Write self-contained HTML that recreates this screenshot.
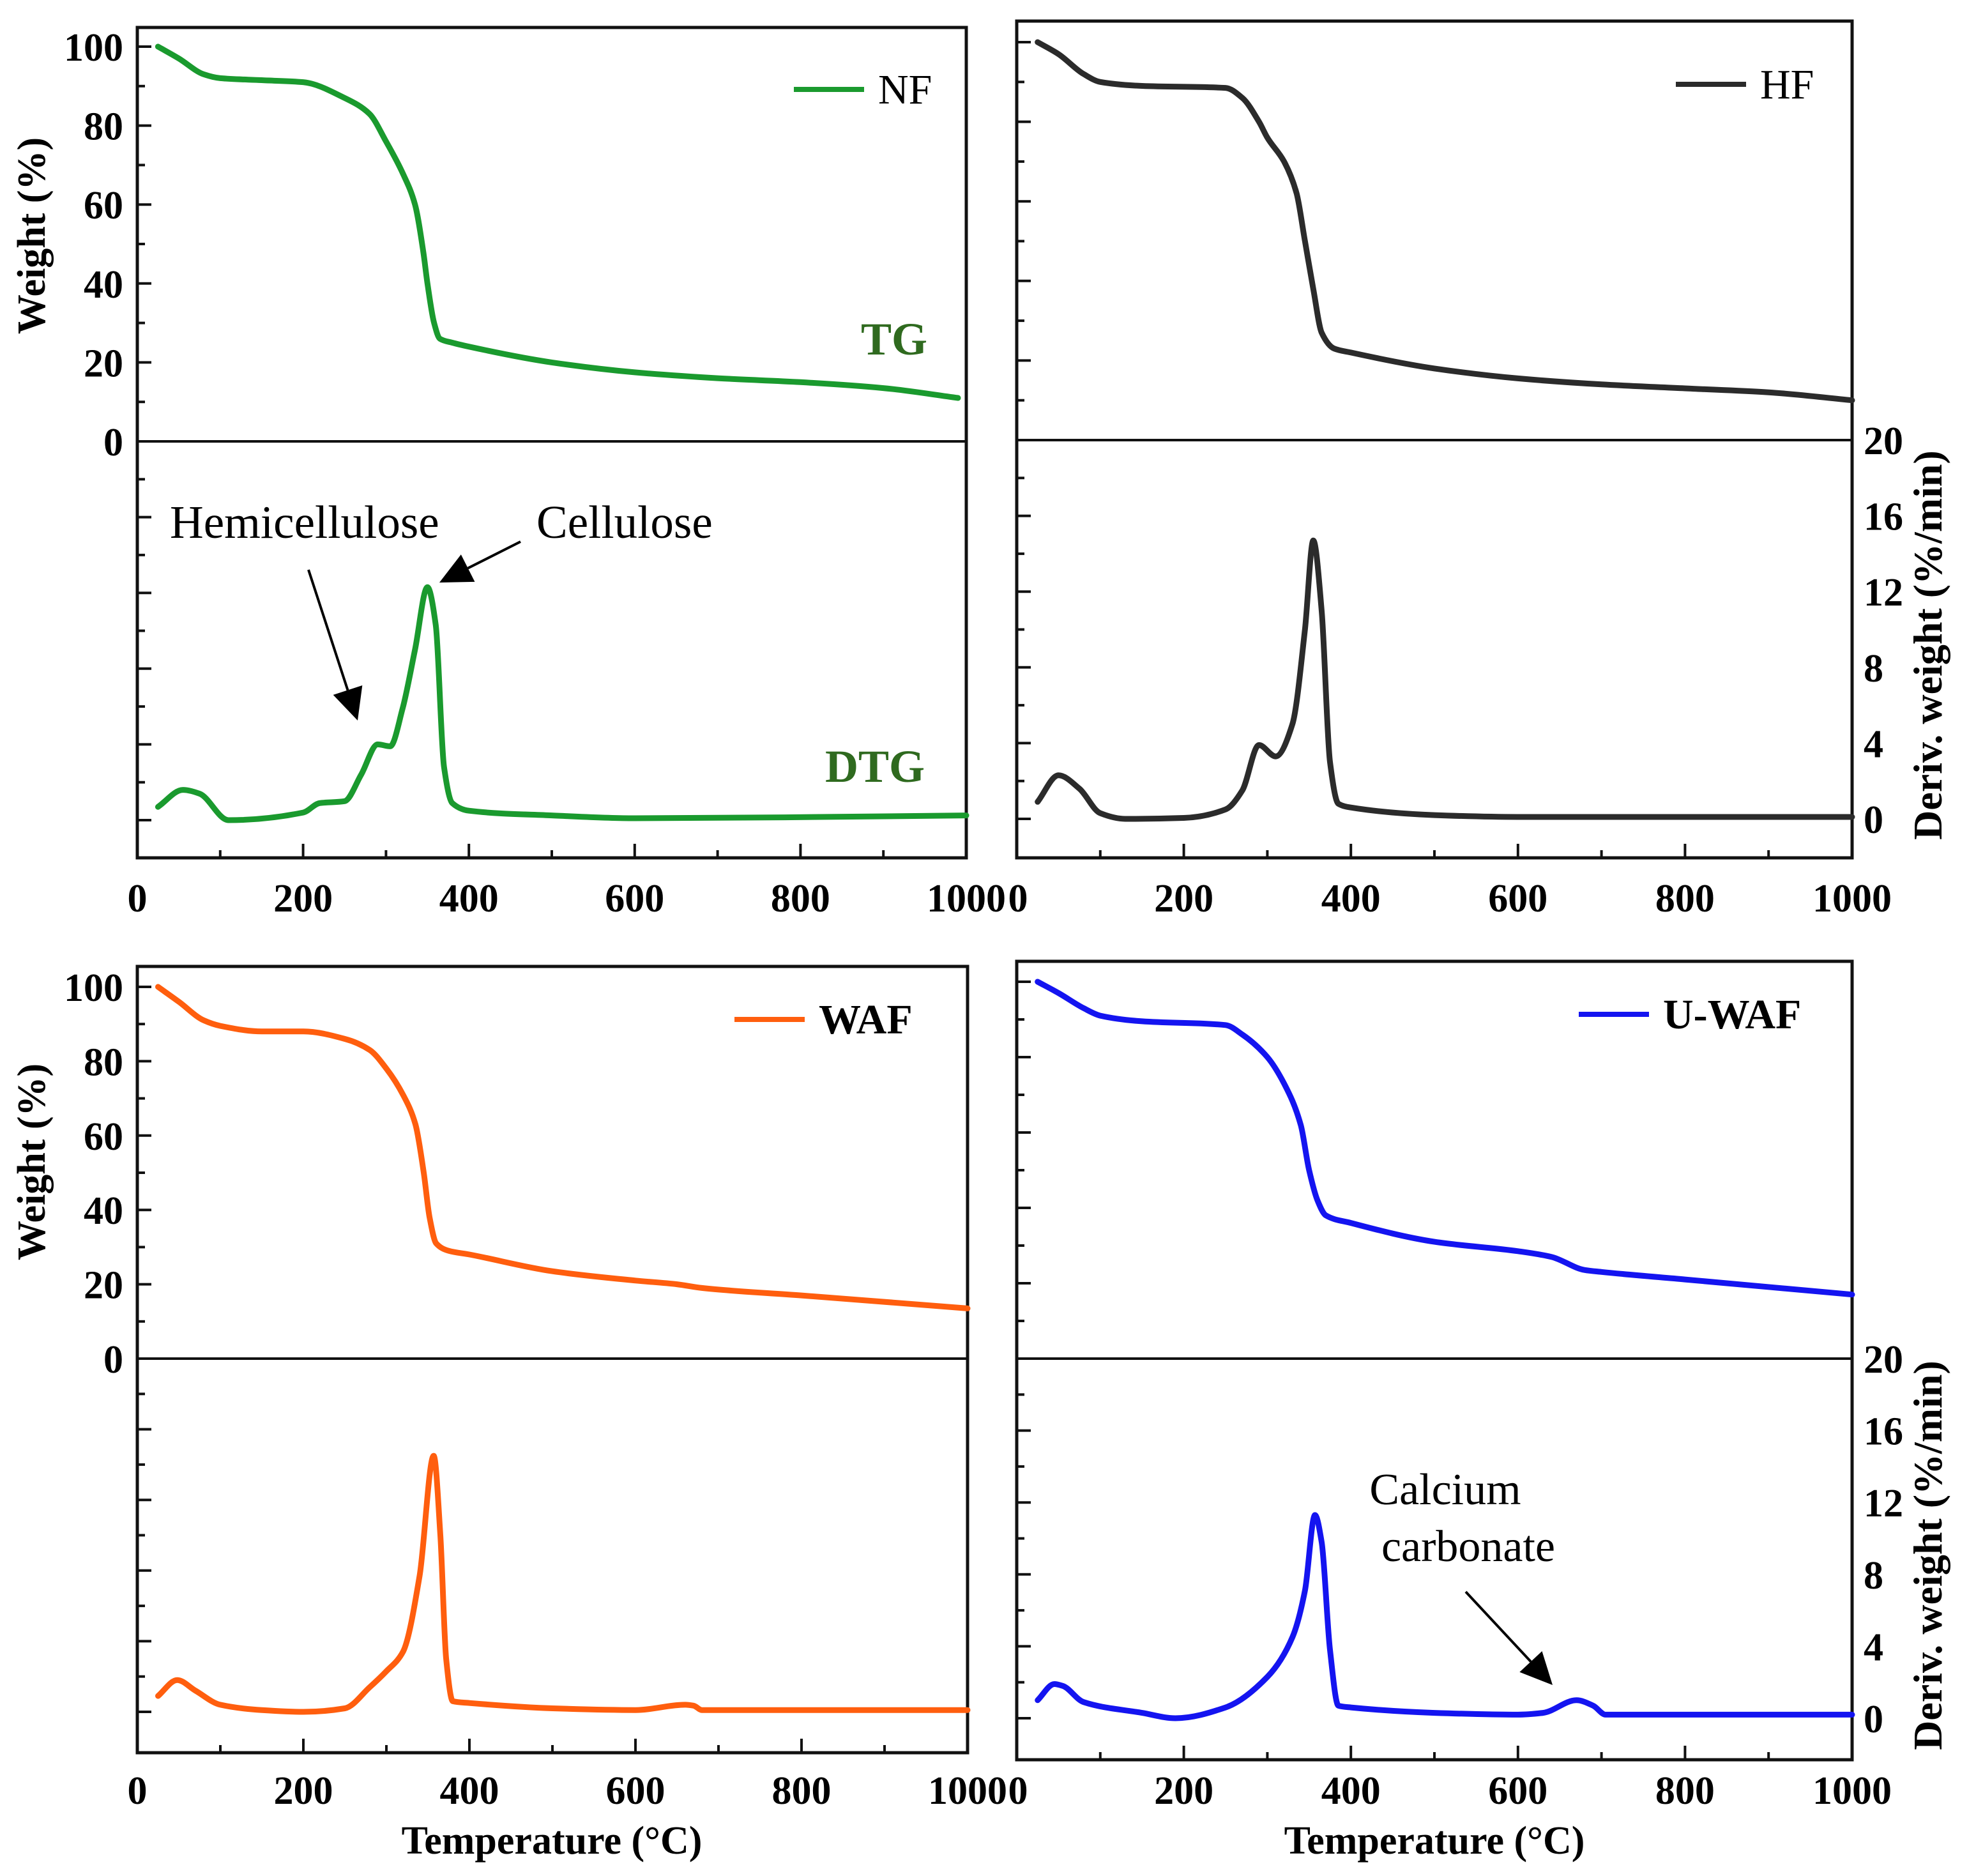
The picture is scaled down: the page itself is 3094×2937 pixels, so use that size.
<!DOCTYPE html>
<html><head><meta charset="utf-8">
<style>
html,body{margin:0;padding:0;background:#fff;}
svg{display:block;font-family:"Liberation Serif",serif;}
</style></head>
<body>
<svg id="chart" width="3094" height="2937" viewBox="0 0 3094 2937" xmlns="http://www.w3.org/2000/svg">
<g id="layer"></g>
<text transform="translate(70,369) rotate(-90)" text-anchor="middle" font-weight="bold" font-size="62">Weight (%)</text>
<text transform="translate(70,1819) rotate(-90)" text-anchor="middle" font-weight="bold" font-size="62">Weight (%)</text>
<text transform="translate(3040,1010) rotate(-90)" text-anchor="middle" font-weight="bold" font-size="64">Deriv. weight (%/min)</text>
<text transform="translate(3040,2435) rotate(-90)" text-anchor="middle" font-weight="bold" font-size="64">Deriv. weight (%/min)</text>
<text x="864" y="2902" text-anchor="middle" font-weight="bold" font-size="62">Temperature (°C)</text>
<text x="2246" y="2902" text-anchor="middle" font-weight="bold" font-size="62">Temperature (°C)</text>
<text x="1452" y="555" text-anchor="end" font-weight="bold" font-size="72" fill="#2f6a1f">TG</text>
<text x="1448" y="1224" text-anchor="end" font-weight="bold" font-size="72" fill="#2f6a1f">DTG</text>
<text x="266" y="842" font-size="73">Hemicellulose</text>
<text x="840" y="842" font-size="73">Cellulose</text>
<text x="2263" y="2355" text-anchor="middle" font-size="70">Calcium</text>
<text x="2299" y="2444" text-anchor="middle" font-size="70">carbonate</text>
</svg>
<script>
// ---- data (temperature °C, weight %, deriv %/min) ----
const nfTgT = [25,50,80,100,150,200,250,280,300,320,335,345,350,358,365,380,400,500,600,700,800,900,990];
const nfTgW = [100,97,93,92,91.5,91,87,83,76,68,60,48,40,30,26,25,24,20,17.5,16,15,13.5,11];
const nfDtgT = [25,55,75,110,200,220,250,270,290,305,320,335,350,360,370,380,400,500,600,1000];
const nfDtgD = [0.7,1.6,1.4,0,0.4,0.9,1.0,2.4,4.0,3.9,5.9,9,12.3,10.3,2.8,0.9,0.5,0.25,0.1,0.25];
const hfTgT = [25,50,80,100,150,250,270,290,300,320,335,345,355,365,380,400,500,600,700,800,900,1000];
const hfTgW = [100,97,92,90,89,88.5,86,80,76,70,62,50,38,27,23,22,18,15.5,14,13,12,10];
const hfDtgT = [25,50,75,100,130,200,250,270,290,310,330,345,355,365,375,385,400,500,600,1000];
const hfDtgD = [0.9,2.3,1.6,0.3,0,0.05,0.5,1.5,3.9,3.3,5,10,14.7,11,3,0.8,0.6,0.2,0.1,0.1];
const wafTgT = [25,50,80,100,150,200,250,280,300,320,335,345,352,360,375,400,500,600,650,680,800,1000];
const wafTgW = [100,96,91,89.5,88,88,86,83,78,71,63,50,38,31,29,28,23.5,21,20,19,17,13.5];
const wafDtgT = [25,48,70,100,150,200,250,280,300,320,340,357,365,372,380,400,500,600,660,670,680,1000];
const wafDtgD = [0.9,1.8,1.2,0.4,0.1,0,0.2,1.4,2.3,3.4,7.7,14.5,10,3,0.6,0.5,0.2,0.1,0.4,0.35,0.1,0.1];
const uwafTgT = [25,50,80,100,150,250,270,300,320,340,350,360,370,400,500,600,640,680,700,800,1000];
const uwafTgW = [100,97,93,91,89.5,88.5,86,80,73,62,50,42,38,36,31,28.5,27,23.5,23,21,17];
const uwafDtgT = [25,45,55,80,150,190,250,300,330,345,357,365,375,385,400,500,600,630,670,690,705,1000];
const uwafDtgD = [1.0,1.9,1.8,0.9,0.3,0,0.6,2.3,4.5,7.1,11.3,9.8,3.8,0.7,0.6,0.3,0.2,0.3,1.0,0.7,0.2,0.2];
const xTicks = [0,200,400,600,800,1000];
const tgTicks = [0,20,40,60,80,100];
const dtgTicks = [0,4,8,12,16,20];

const NS="http://www.w3.org/2000/svg";
const layer=document.getElementById('layer');
function mk(tag,attrs,parent){const e=document.createElementNS(NS,tag);for(const k in attrs)e.setAttribute(k,attrs[k]);(parent||layer).appendChild(e);return e;}

const panels=[
 {id:'nf',x0:215,x1:1513,top:43,mid:691,bot:1343,tg100:73,dtg0:1284,color:'#1a9a2e',tgT:nfTgT,tgW:nfTgW,dT:nfDtgT,dD:nfDtgD,leftLabels:true,rightLabels:false,xlab:1405,legend:'NF',lx:1243,ly:140,bold:false},
 {id:'hf',x0:1592,x1:2900,top:33,mid:689,bot:1343,tg100:66,dtg0:1282,color:'#2b2b2b',tgT:hfTgT,tgW:hfTgW,dT:hfDtgT,dD:hfDtgD,leftLabels:false,rightLabels:true,xlab:1405,legend:'HF',lx:2624,ly:132,bold:false},
 {id:'waf',x0:215,x1:1515,top:1513,mid:2127,bot:2744,tg100:1545,dtg0:2680,color:'#ff5e0e',tgT:wafTgT,tgW:wafTgW,dT:wafDtgT,dD:wafDtgD,leftLabels:true,rightLabels:false,xlab:2802,legend:'WAF',lx:1150,ly:1596,bold:true},
 {id:'uwaf',x0:1592,x1:2900,top:1505,mid:2127,bot:2755,tg100:1537,dtg0:2690,color:'#1414f0',tgT:uwafTgT,tgW:uwafTgW,dT:uwafDtgT,dD:uwafDtgD,leftLabels:false,rightLabels:true,xlab:2802,legend:'U-WAF',lx:2472,ly:1588,bold:true}
];

// monotone cubic (Fritsch-Carlson) path in pixel space, x increasing
function monoPath(pts){
  const n=pts.length,dx=[],m=[],t=[];
  for(let i=0;i<n-1;i++){dx[i]=pts[i+1][0]-pts[i][0];m[i]=(pts[i+1][1]-pts[i][1])/dx[i];}
  t[0]=m[0];t[n-1]=m[n-2];
  for(let i=1;i<n-1;i++){
    if(m[i-1]*m[i]<=0)t[i]=0;
    else{const w1=2*dx[i]+dx[i-1],w2=dx[i]+2*dx[i-1];t[i]=(w1+w2)/(w1/m[i-1]+w2/m[i]);}
  }
  let d='M'+pts[0][0].toFixed(1)+','+pts[0][1].toFixed(1);
  for(let i=0;i<n-1;i++){
    const h=dx[i]/3;
    d+=' C'+(pts[i][0]+h).toFixed(1)+','+(pts[i][1]+t[i]*h).toFixed(1)+' '+(pts[i+1][0]-h).toFixed(1)+','+(pts[i+1][1]-t[i+1]*h).toFixed(1)+' '+pts[i+1][0].toFixed(1)+','+pts[i+1][1].toFixed(1);
  }
  return d;
}

panels.forEach(p=>{
  const g=mk('g',{});
  
  
  const xs=t=>p.x0+(p.x1-p.x0)*t/1000;
  const tgS=(p.mid-p.tg100)/100;
  const ys=w=>p.mid-w*tgS;
  const dS=(p.dtg0-p.mid)/20;
  const yd=v=>p.dtg0-v*dS;
  const fr=mk('rect',{x:p.x0,y:p.top,width:p.x1-p.x0,height:p.bot-p.top,fill:'none',stroke:'#111','stroke-width':5},g);
  
  
  const md=mk('line',{x1:p.x0,x2:p.x1,y1:p.mid,y2:p.mid,stroke:'#111','stroke-width':4},g);
  
  
  for(let v=10;v<=100;v+=10){
    const y=ys(v);if(y<p.top+5)continue;
    mk('line',{x1:p.x0,x2:p.x0+(v%20==0?22:12),y1:y,y2:y,stroke:'#111','stroke-width':4},g);
  }
  for(let v=2;v<20;v+=2){
    const y=yd(v);
    mk('line',{x1:p.x0,x2:p.x0+(v%4==0?22:12),y1:y,y2:y,stroke:'#111','stroke-width':4},g);
  }
  mk('line',{x1:p.x0,x2:p.x0+22,y1:yd(0),y2:yd(0),stroke:'#111','stroke-width':4},g);
  for(let t=100;t<1000;t+=100){
    const x=xs(t);
    mk('line',{x1:x,x2:x,y1:p.bot,y2:p.bot-(t%200==0?22:12),stroke:'#111','stroke-width':4},g);
  }
  xTicks.forEach(t=>{
    if(p.id==='hf'||p.id==='uwaf'){ if(t===0) return; }
    const tx=mk('text',{x:xs(t),y:p.xlab+22,'text-anchor':'middle','font-size':62,'font-weight':'bold'},g);
    
    
    tx.textContent=t;
  });
  if(p.id==='nf'||p.id==='waf'){
    const z=mk('text',{x:1594,y:p.xlab+22,'text-anchor':'middle','font-size':62,'font-weight':'bold'},g);
    
    
    z.textContent='0';
  }
  if(p.leftLabels){
    tgTicks.forEach(v=>{
      const tx=mk('text',{x:p.x0-22,y:ys(v)+22,'text-anchor':'end','font-size':62,'font-weight':'bold'},g);
      
      
      tx.textContent=v;
    });
  }
  if(p.rightLabels){
    dtgTicks.forEach(v=>{
      const tx=mk('text',{x:p.x1+18,y:yd(v)+22,'text-anchor':'start','font-size':62,'font-weight':'bold'},g);
      
      
      tx.textContent=v;
    });
  }
  const tg=mk('path',{d:monoPath(p.tgT.map((t,i)=>[xs(t),ys(p.tgW[i])])),fill:'none',stroke:p.color,'stroke-width':9,'stroke-linejoin':'round','stroke-linecap':'round'},g);
  
  
  const dt=mk('path',{d:monoPath(p.dT.map((t,i)=>[xs(t),yd(p.dD[i])])),fill:'none',stroke:p.color,'stroke-width':9,'stroke-linejoin':'round','stroke-linecap':'round'},g);
  
  
  const lg=mk('g',{},g);
  
  
  mk('line',{x1:p.lx,x2:p.lx+110,y1:p.ly,y2:p.ly,stroke:p.color,'stroke-width':8},lg);
  const lt=mk('text',{x:p.lx+132,y:p.ly+22,'font-size':66,'font-weight':p.bold?'bold':'normal'},lg);
  lt.textContent=p.legend;
});

function arrow(x1,y1,x2,y2,name){
  const g=mk('g',{});
  
  
  const dx=x2-x1,dy=y2-y1,L=Math.hypot(dx,dy),ux=dx/L,uy=dy/L;
  const hl=50,hw=24;
  const bx=x2-ux*hl,by=y2-uy*hl;
  mk('line',{x1:x1,y1:y1,x2:bx,y2:by,stroke:'#000','stroke-width':4},g);
  mk('polygon',{points:`${x2},${y2} ${bx-uy*hw},${by+ux*hw} ${bx+uy*hw},${by-ux*hw}`,fill:'#000'},g);
}
arrow(483,892,560,1128,'hemicellulose-arrow');
arrow(815,848,688,912,'cellulose-arrow');
arrow(2295,2492,2431,2638,'calcium-carbonate-arrow');
</script>
</body></html>
